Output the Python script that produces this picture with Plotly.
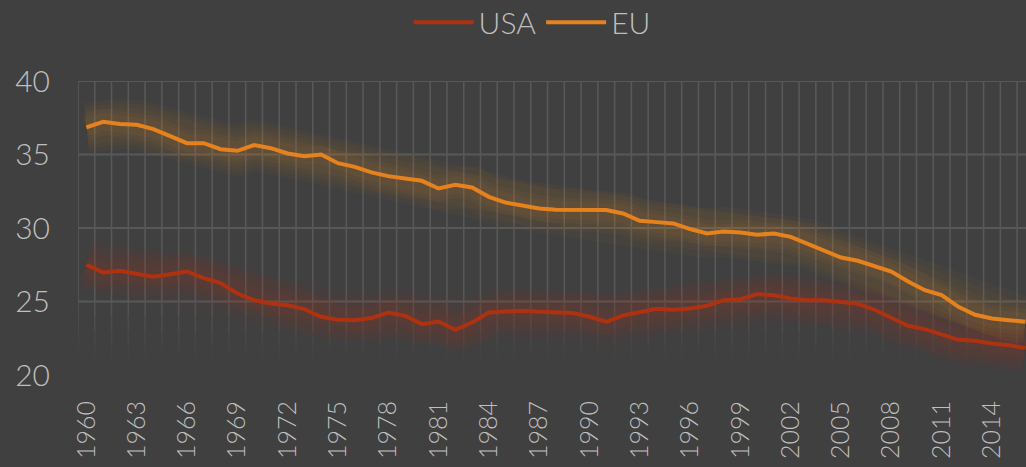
import plotly.graph_objects as go

years = list(range(1960, 2017))
usa = [27.50, 26.97, 27.09, 26.91, 26.68, 26.86, 27.04, 26.59, 26.25, 25.54,
       25.09, 24.86, 24.75, 24.48, 23.96, 23.76, 23.73, 23.87, 24.25, 24.03,
       23.46, 23.64, 23.07, 23.57, 24.25, 24.32, 24.37, 24.30, 24.23, 24.21,
       23.96, 23.62, 24.05, 24.30, 24.50, 24.44, 24.52, 24.71, 25.09, 25.16,
       25.50, 25.43, 25.20, 25.09, 25.09, 24.96, 24.84, 24.44, 23.90, 23.35,
       23.12, 22.73, 22.39, 22.33, 22.14, 22.03, 21.83]
eu = [36.84, 37.22, 37.07, 37.02, 36.73, 36.27, 35.77, 35.77, 35.36, 35.25,
      35.64, 35.43, 35.07, 34.89, 35.00, 34.41, 34.16, 33.78, 33.53, 33.37,
      33.21, 32.69, 32.94, 32.76, 32.12, 31.73, 31.51, 31.33, 31.24, 31.22,
      31.22, 31.22, 30.99, 30.49, 30.40, 30.31, 29.93, 29.63, 29.76, 29.69,
      29.54, 29.63, 29.40, 28.95, 28.45, 27.99, 27.77, 27.43, 27.04, 26.36,
      25.77, 25.43, 24.64, 24.10, 23.84, 23.73, 23.62]
tick_years = list(range(1960, 2017, 3))
tick_labels = [str(y) for y in tick_years]
y_ticks = [20, 25, 30, 35, 40]

USA_COLOR = "#AE3210"
EU_COLOR = "#E6821E"
BG = "#404040"
GRID = "#585858"
TEXT = "#BFBFBF"
FONT = "Lato"

fig = go.Figure()

# glow layers
for name, vals, rgb in [("USA", usa, "174,50,16"), ("EU", eu, "230,130,30")]:
    for w, a in [(50, 0.04), (42, 0.045), (34, 0.045), (26, 0.05), (18, 0.05)]:
        fig.add_trace(go.Scatter(x=years, y=vals, mode="lines",
                                 line=dict(color=f"rgba({rgb},{a})", width=w),
                                 hoverinfo="skip", showlegend=False))

fig.add_trace(go.Scatter(x=years, y=usa, mode="lines", name="USA",
                         line=dict(color=USA_COLOR, width=4)))
fig.add_trace(go.Scatter(x=years, y=eu, mode="lines", name="EU",
                         line=dict(color=EU_COLOR, width=4)))

# grid drawn as shapes: horizontal at the ticks above the baseline,
# vertical at category boundaries, fading out towards the bottom
shapes = []
for yv in y_ticks[1:]:
    shapes.append(dict(type="line", xref="x domain", yref="y", x0=0, x1=1, y0=yv, y1=yv,
                       line=dict(color=GRID, width=2), layer="below"))
boundaries = [y - 0.5 for y in years] + [years[-1] + 0.5]
fade = [(25, 40, 1.0), (24, 25, 0.75), (23, 24, 0.5), (22, 23, 0.3), (21.2, 22, 0.12)]
for b in boundaries:
    for y0, y1, op in fade:
        shapes.append(dict(type="line", xref="x", yref="y", x0=b, x1=b, y0=y0, y1=y1,
                           line=dict(color=GRID, width=1.6), opacity=op, layer="below"))

fig.update_layout(
    width=1026, height=467,
    paper_bgcolor=BG, plot_bgcolor=BG,
    margin=dict(l=78, r=0, t=81, b=92, autoexpand=False),
    font=dict(family=FONT, color=TEXT, weight=300),
    showlegend=True,
    legend=dict(orientation="h", x=0.479, xanchor="center",
                y=1.2, yanchor="middle",
                font=dict(size=30, color=TEXT, weight=300),
                bgcolor="rgba(0,0,0,0)", itemwidth=60),
    shapes=shapes,
    xaxis=dict(range=[1959.5, 2016.03], showgrid=False, zeroline=False,
               tickmode="array", tickvals=tick_years, ticktext=tick_labels,
               tickangle=-90, tickfont=dict(size=25, color=TEXT, weight=300),
               ticks="", showline=False, ticklabelstandoff=20, automargin=False),
    yaxis=dict(range=[20, 40], tickvals=y_ticks, showgrid=False,
               zeroline=False, showline=False, ticks="", automargin=False,
               tickfont=dict(size=30, color=TEXT, weight=300), ticklabelstandoff=27),
)

fig.write_html("out.html", config={"displayModeBar": False},
               post_script="document.body.style.margin='0';")
